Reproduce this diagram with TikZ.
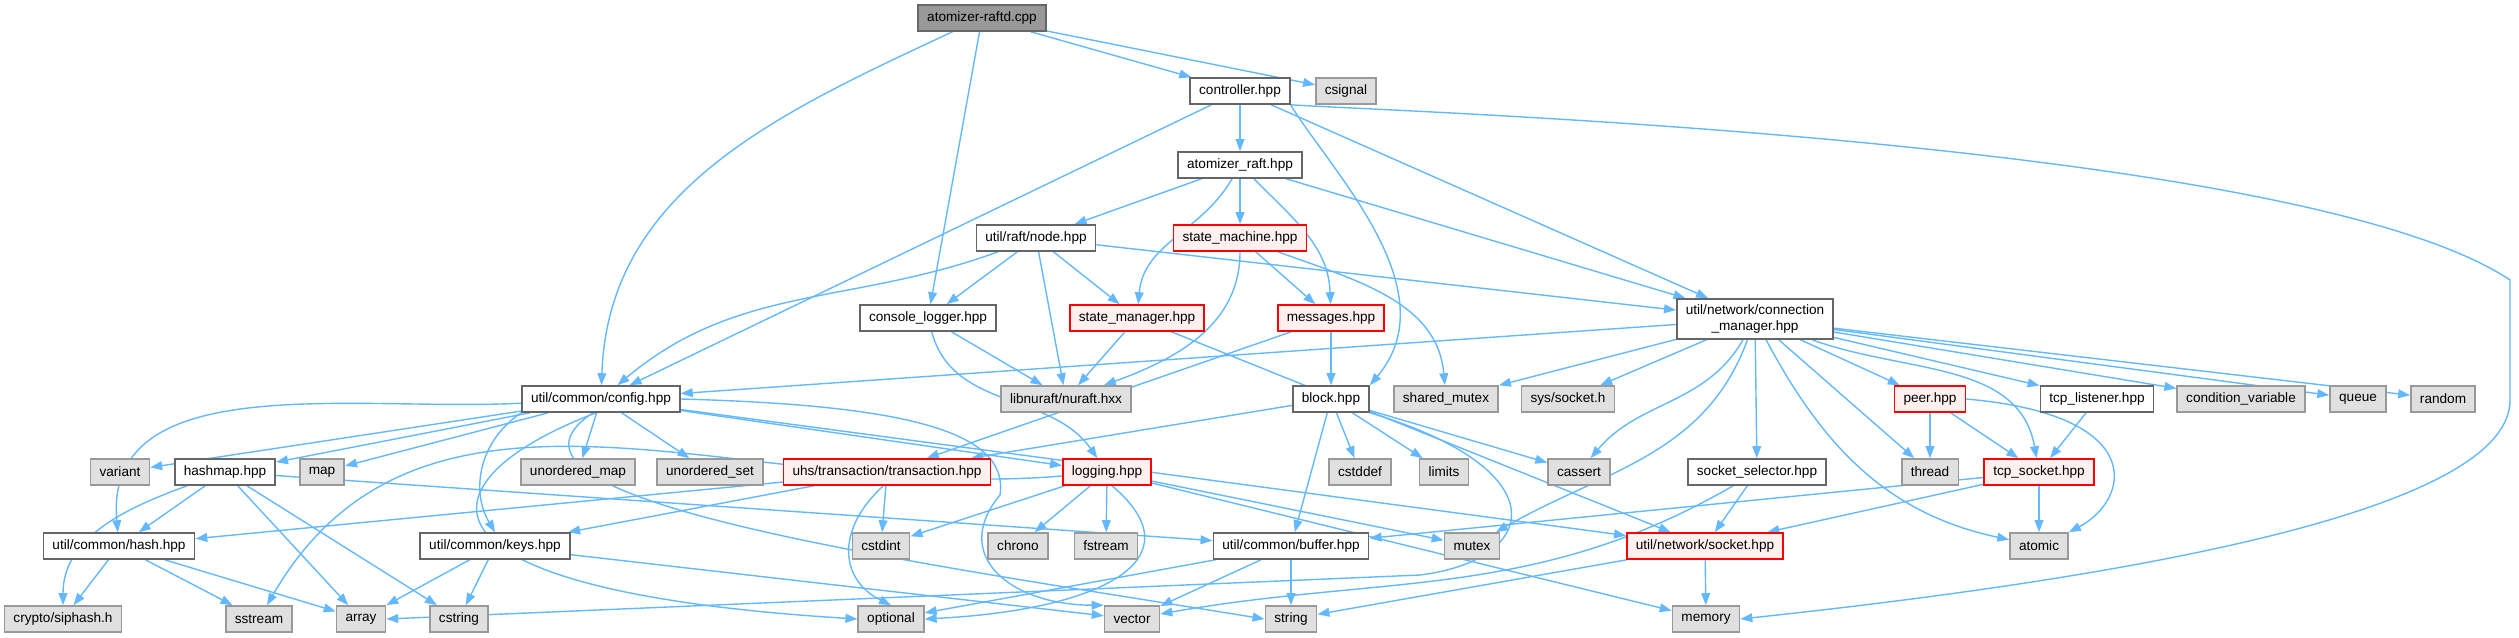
\documentclass[tikz,border=0pt]{standalone}
\usepackage{fontspec}
\setmainfont{Liberation Sans}
\usetikzlibrary{arrows.meta,backgrounds}
\definecolor{edgeblue}{HTML}{63B8FF}
\definecolor{greyfill}{HTML}{E0E0E0}
\definecolor{greyline}{HTML}{999999}
\definecolor{darkline}{HTML}{666666}
\definecolor{redfill}{HTML}{FFF0F0}
\begin{document}
\begin{tikzpicture}[x=0.5pt,y=-0.5pt,
    every node/.style={font=\fontsize{6.8}{8}\selectfont},
    file/.style={draw=darkline,fill=white,line width=0.8pt,minimum height=13pt,inner xsep=4.5pt,inner ysep=0pt},
    sys/.style={file,draw=greyline,fill=greyfill},
    trunc/.style={file,draw=red,fill=redfill},
    rootfile/.style={file,fill=greyline},
    edge/.style={draw=edgeblue,line width=0.7pt,-{Triangle[length=6pt,width=4.4pt]}}]
\useasboundingbox (0,0) rectangle (2519,637);
\node[rootfile] (root) at (982,18) {atomizer-raftd.cpp};
\node[file] (controller) at (1240,91) {controller.hpp};
\node[sys] (csignal) at (1346,91) {csignal};
\node[file] (araft) at (1240,165) {atomizer\_raft.hpp};
\node[file] (rnode) at (1036,238) {util/raft/node.hpp};
\node[trunc] (smachine) at (1240,238) {state\_machine.hpp};
\node[file] (clogger) at (928,318) {console\_logger.hpp};
\node[trunc] (smanager) at (1137,318) {state\_manager.hpp};
\node[trunc] (messages) at (1331,318) {messages.hpp};
\node[file,minimum height=20pt,align=center] (connmgr) at (1755,319) {util/network/connection\\\_manager.hpp};
\node[file] (config) at (601,399) {util/common/config.hpp};
\node[sys] (nuraft) at (1066,399) {libnuraft/nuraft.hxx};
\node[file] (block) at (1331,399) {block.hpp};
\node[sys] (shmutex) at (1446,399) {shared\_mutex};
\node[sys] (syssocket) at (1568,399) {sys/socket.h};
\node[trunc] (peer) at (1930,399) {peer.hpp};
\node[file] (tcplistener) at (2097,399) {tcp\_listener.hpp};
\node[sys] (condvar) at (2241,399) {condition\_variable};
\node[sys] (queue) at (2358,399) {queue};
\node[sys] (random) at (2443,399) {random};
\node[sys] (variant) at (120,472) {variant};
\node[file] (hashmap) at (225,472) {hashmap.hpp};
\node[sys] (map) at (322,472) {map};
\node[sys] (umap) at (578,472) {unordered\_map};
\node[sys] (uset) at (710,472) {unordered\_set};
\node[trunc] (transaction) at (887,472) {uhs/transaction/transaction.hpp};
\node[trunc] (logging) at (1107,472) {logging.hpp};
\node[sys] (cstddef) at (1360,472) {cstddef};
\node[sys] (limits) at (1444,472) {limits};
\node[sys] (cassert) at (1579,472) {cassert};
\node[file] (sselector) at (1757,472) {socket\_selector.hpp};
\node[sys] (thread) at (1930,472) {thread};
\node[trunc] (tcpsocket) at (2039,472) {tcp\_socket.hpp};
\node[file] (hash) at (119,546) {util/common/hash.hpp};
\node[file] (keys) at (495,546) {util/common/keys.hpp};
\node[sys] (cstdint) at (881,546) {cstdint};
\node[sys] (chrono) at (1018,546) {chrono};
\node[sys] (fstream) at (1106,546) {fstream};
\node[file] (buffer) at (1291,546) {util/common/buffer.hpp};
\node[sys] (mutex) at (1472,546) {mutex};
\node[trunc] (socket) at (1705,546) {util/network/socket.hpp};
\node[sys] (atomic) at (2039,546) {atomic};
\node[sys] (siphash) at (63,619) {crypto/siphash.h};
\node[sys] (sstream) at (259,619) {sstream};
\node[sys] (array) at (361,619) {array};
\node[sys] (cstring) at (459,619) {cstring};
\node[sys] (optional) at (891,619) {optional};
\node[sys] (vector) at (1132,619) {vector};
\node[sys] (string) at (1291,619) {string};
\node[sys] (memory) at (1706,619) {memory};
\begin{pgfonlayer}{background}
\draw[edge] (root) to[out=205,in=88] (config);
\draw[edge] (root) -- (clogger);
\draw[edge] (root) -- (controller);
\draw[edge] (root) -- (csignal);
\draw[edge] (controller) -- (araft);
\draw[edge] (controller) -- (config);
\draw[edge] (controller.south east) .. controls (1330,170) and (1450,290) .. (block.north east);
\draw[edge] (controller) -- (connmgr);
\draw[edge] (controller.south east) .. controls (1400,112) and (2300,140) .. (2510,280) -- (2510,400) .. controls (2510,500) and (2200,570) .. (memory.east);
\draw[edge] (araft) -- (rnode);
\draw[edge] (araft) -- (smachine);
\draw[edge] (araft) to[out=-120,in=85] (smanager);
\draw[edge] (araft) to[out=-45,in=92] (messages);
\draw[edge] (araft) -- (connmgr);
\draw[edge] (rnode) to[out=200,in=40] (config);
\draw[edge] (rnode) -- (clogger);
\draw[edge] (rnode) -- (smanager);
\draw[edge] (rnode) -- (nuraft);
\draw[edge] (rnode) -- (connmgr);
\draw[edge] (smachine) -- (messages);
\draw[edge] (smachine) to[out=-90,in=20] (nuraft);
\draw[edge] (smachine) to[out=-20,in=95] (shmutex);
\draw[edge] (clogger) -- (nuraft);
\draw[edge] (clogger) to[out=-75,in=125] (logging);
\draw[edge] (smanager) -- (nuraft);
\draw[edge] (smanager) -- (socket);
\draw[edge] (messages) -- (block);
\draw[edge] (messages) -- (transaction);
\draw[edge] (connmgr) -- (config);
\draw[edge] (connmgr) -- (shmutex);
\draw[edge] (connmgr) -- (syssocket);
\draw[edge] (connmgr) to[out=-120,in=50] (cassert);
\draw[edge] (connmgr) to[out=-110,in=30] (mutex);
\draw[edge] (connmgr) -- (sselector);
\draw[edge] (connmgr) -- (thread);
\draw[edge] (connmgr) to[out=-62,in=168] (atomic);
\draw[edge] (connmgr) -- (peer);
\draw[edge] (connmgr) to[out=-20,in=100] (tcpsocket);
\draw[edge] (connmgr) -- (tcplistener);
\draw[edge] (connmgr) -- (condvar);
\draw[edge] (connmgr) -- (queue);
\draw[edge] (connmgr) -- (random);
\draw[edge] (block) -- (transaction);
\draw[edge] (block) -- (cstddef);
\draw[edge] (block) -- (limits);
\draw[edge] (block) -- (cassert);
\draw[edge] (block) -- (buffer);
\draw[edge] (block.south east) .. controls (1560,470) and (1540,560) .. (1420,575) -- (array.east);
\draw[edge] (config) to[out=183,in=95] (hash);
\draw[edge] (config) -- (variant);
\draw[edge] (config) -- (hashmap);
\draw[edge] (config) -- (map);
\draw[edge] (config) -- (umap);
\draw[edge] (config) -- (uset);
\draw[edge] (config.south west) .. controls (480,440) and (470,490) .. (keys.north);
\draw[edge] (config.250) .. controls (420,480) and (390,590) .. (optional.west);
\draw[edge] (config.east) .. controls (900,405) and (1010,430) .. (1000,495) .. controls (950,555) and (1010,605) .. (vector.north west);
\draw[edge] (config.240) .. controls (460,500) and (900,560) .. (string.west);
\draw[edge] (config) -- (logging);
\draw[edge] (config) -- (socket);
\draw[edge] (hashmap) -- (hash);
\draw[edge] (hashmap) to[out=200,in=90] (siphash);
\draw[edge] (hashmap) -- (array);
\draw[edge] (hashmap) -- (cstring);
\draw[edge] (hashmap) -- (buffer);
\draw[edge] (transaction) -- (hash);
\draw[edge] (transaction) -- (keys);
\draw[edge] (transaction) -- (cstdint);
\draw[edge] (transaction.255) .. controls (835,530) and (840,580) .. (optional.north);
\draw[edge] (logging) to[out=185,in=60] (sstream);
\draw[edge] (logging) -- (cstdint);
\draw[edge] (logging) -- (chrono);
\draw[edge] (logging) -- (fstream);
\draw[edge] (logging.290) .. controls (1200,560) and (1100,610) .. (optional.east);
\draw[edge] (logging) -- (mutex);
\draw[edge] (logging) -- (memory);
\draw[edge] (hash) -- (siphash);
\draw[edge] (hash) -- (sstream);
\draw[edge] (hash) -- (array);
\draw[edge] (keys) -- (array);
\draw[edge] (keys) -- (cstring);
\draw[edge] (keys) -- (vector);
\draw[edge] (buffer) -- (optional);
\draw[edge] (buffer) -- (vector);
\draw[edge] (buffer) -- (string);
\draw[edge] (socket) -- (memory);
\draw[edge] (socket) -- (string);
\draw[edge] (sselector) -- (socket);
\draw[edge] (sselector) to[out=-150,in=10] (vector);
\draw[edge] (tcpsocket) -- (socket);
\draw[edge] (tcpsocket) -- (atomic);
\draw[edge] (tcpsocket) -- (buffer);
\draw[edge] (peer) -- (thread);
\draw[edge] (peer) -- (tcpsocket);
\draw[edge] (peer.east) .. controls (2150,415) and (2130,500) .. (atomic.north east);
\draw[edge] (tcplistener) -- (tcpsocket);
\end{pgfonlayer}
\end{tikzpicture}
\end{document}
